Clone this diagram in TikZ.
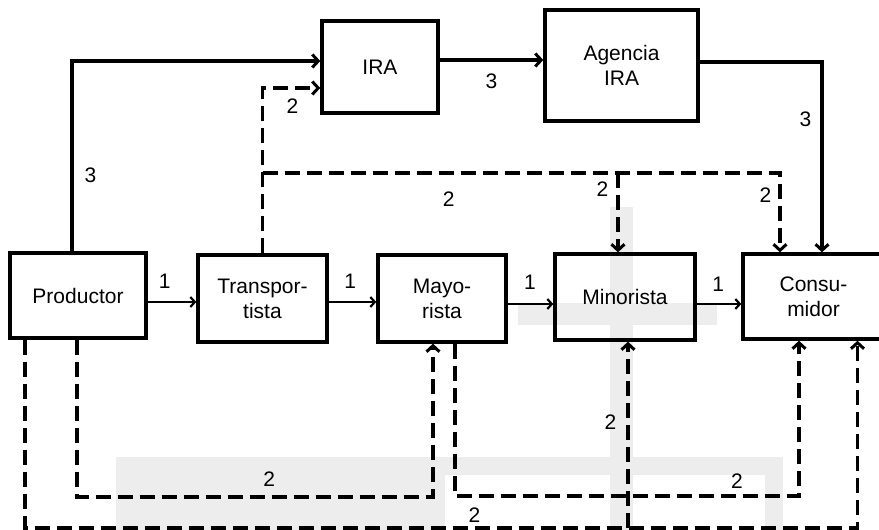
\documentclass[tikz,border=0pt]{standalone}
\usepackage{fontspec}
\setmainfont{Liberation Sans}
\usetikzlibrary{arrows.meta}

\tikzset{
	caja/.style= {draw, line width= 3.4pt, align= center, inner sep= 0pt, font= \fontsize{21}{25}\selectfont},
	paso/.style= {line width= 2.2pt, -{Straight Barb[length= 4.5pt, width= 10pt, line width= 2.2pt]}},
	flujo/.style= {line width= 3.2pt, -{Straight Barb[length= 6pt, width= 13pt, line width= 3pt]}},
	info/.style= {flujo, dash pattern= on 15pt off 7pt},
	num/.style= {inner sep= 0pt, font= \fontsize{21}{25}\selectfont},
}

\begin{document}
\begin{tikzpicture}[x= 1pt, y= -1pt]
	\useasboundingbox (0, 0) rectangle (879, 530);

	\fill[black!7](116, 457) rectangle (445, 530); %fondo gris
	\fill[black!7](445, 457) rectangle (783, 475);
	\fill[black!7](765, 475) rectangle (783, 530);
	\fill[black!7](610, 207) rectangle (633, 530);
	\fill[black!7](518, 303) rectangle (717, 325);

	\node[caja, minimum width= 136, minimum height= 85] (prod) at (78, 295.5) {Productor};
	\node[caja, minimum width= 129, minimum height= 87] (trans) at (262.5, 298.5) {Transpor-\\tista};
	\node[caja, minimum width= 128, minimum height= 87] (mayo) at (442, 298.5) {Mayo-\\rista};
	\node[caja, minimum width= 140, minimum height= 86] (mino) at (625, 297) {Minorista};
	\node[caja, minimum width= 141, minimum height= 85] (cons) at (813.5, 296.5) {Consu-\\midor};
	\node[caja, minimum width= 116, minimum height= 92] (ira) at (380, 67) {IRA};
	\node[caja, minimum width= 153, minimum height= 111] (agen) at (621.5, 65.5) {Agencia\\IRA};

	\coordinate (bus) at (262.5, 173); %linea 2 superior
	\coordinate (rama) at (618, 173);
	\coordinate (esq1) at (857.5, 528); %esquinas inferiores
	\coordinate (rama2) at (628, 528);
	\coordinate (esq2) at (433, 497);
	\coordinate (esq3) at (799, 496);

	% flujo 1
	\draw[paso] ([yshift= -6.5]prod.east)-- ([yshift= -3.5]trans.west) node[num, pos= 0.35, above= 12pt] (n1a) {1};
	\draw[paso] ([yshift= -3.5]trans.east)-- ([yshift= -3.5]mayo.west) node[num, pos= 0.45, above= 12pt] (n1b) {1};
	\draw[paso] ([yshift= -5.5]mayo.east)-- ([yshift= -7]mino.west) node[num, pos= 0.49, above= 13pt] (n1c) {1};
	\draw[paso] ([yshift= -7]mino.east)-- ([yshift= -7.5]cons.west) node[num, pos= 0.48, above= 11pt] (n1d) {1};

	% flujo 3
	\draw[flujo] ([xshift= -6]prod.north) |- ([yshift= 6]ira.west) node[num, pos= 0.2, right= 11pt] (n3a) {3};
	\draw[flujo] ([yshift= 7]ira.east)-- ([yshift= 5.5]agen.west) node[num, midway, below= 12pt] (n3b) {3};
	\draw[flujo] ([yshift= 3.5]agen.east) -| ([xshift= 8.5]cons.north) node[num, pos= 0.65, left= 9pt] (n3c) {3};

	% flujo 2
	\draw[info] (trans.north) |- ([yshift= -21]ira.west) node[num, pos= 0.76, below= 9pt] (n2a) {2};
	\draw[info] (bus) -| ([xshift= -33.5]cons.north) node[num, pos= 0.18, below= 17pt] (n2b) {2} node[num, pos= 0.64, left= 7pt] (n2c) {2};
	\draw[info] (rama)-- ([xshift= -7]mino.north) node[num, pos= 0.21, left= 8pt] (n2d) {2};
	\draw[info] ([xshift= -53]prod.south) |- (esq1) node[num, pos= 0.77, above= 4pt] (n2e) {2} -- ([xshift= 44]cons.south);
	\draw[info] (rama2)-- ([xshift= 3]mino.south) node[num, pos= 0.57, left= 10pt] (n2f) {2};
	\draw[info] ([xshift= -1]prod.south) |- (esq2) node[num, pos= 0.77, above= 9pt] (n2g) {2} -- ([xshift= -9]mayo.south);
	\draw[info] ([xshift= 13]mayo.south) |- (esq3) node[num, pos= 0.91, above= 6pt] (n2h) {2} -- ([xshift= -14.5]cons.south);
\end{tikzpicture}
\end{document}
